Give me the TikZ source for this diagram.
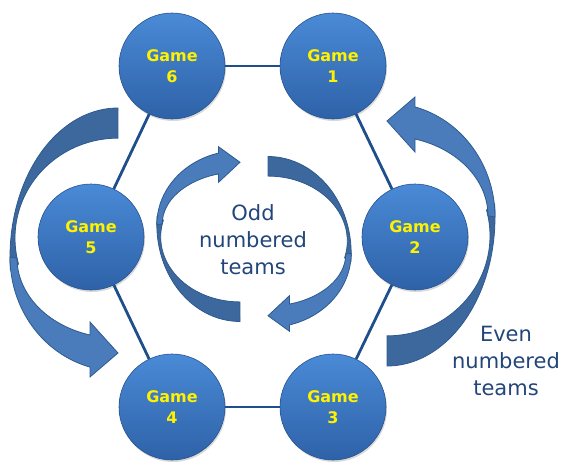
\documentclass[tikz,border=0pt]{standalone}
\usepackage{fontspec}
\setsansfont{DejaVu Sans}
\usepackage{xcolor}
\usepackage{tikz}
\usetikzlibrary{shadows}
\definecolor{gametop}{HTML}{4A8AD6}
\definecolor{gamebottom}{HTML}{2E62A8}
\definecolor{linkblue}{HTML}{1F4E8C}
\definecolor{arrowlight}{HTML}{4A7CBC}
\definecolor{arrowdark}{HTML}{3D689E}
\definecolor{arrowedge}{HTML}{2D5A8E}
\definecolor{teamtext}{HTML}{22467A}

\begin{document}
\begin{tikzpicture}[x=1pt,y=-1pt,
    game/.style={circle,minimum size=106pt,inner sep=0pt,draw=gamebottom!85!black,line width=0.6pt,
      top color=gametop,bottom color=gamebottom,
      drop shadow={opacity=0.3,shadow xshift=1pt,shadow yshift=-2pt},
      text=yellow,font=\sffamily\bfseries\fontsize{16}{21}\selectfont,align=center},
    link/.style={draw=linkblue,line width=2.8pt},
    teams/.style={text=teamtext,font=\sffamily\fontsize{21}{27}\selectfont,align=center},
    backpart/.style={fill=arrowdark,draw=arrowedge,line width=0.8pt},
    frontpart/.style={fill=arrowlight,draw=arrowedge,line width=0.8pt}]
        \useasboundingbox (0,0) rectangle (571,469);
        \def\curvedarrow{
          \filldraw [backpart] (0,-130) arc[start angle=270,end angle=175,x radius=108,y radius=149]
            -- (-99.5,26) arc[start angle=165,end angle=270,x radius=103,y radius=100] -- cycle;
          \filldraw [frontpart] (-108,19) arc[start angle=180,end angle=105,x radius=108,y radius=114]
            -- (-28,139) -- (0,115) -- (-28,84) -- (-28,97)
            arc[start angle=106.1,end angle=180,x radius=101,y radius=80] -- cycle;
        }
        % outer arrows
        \begin{scope}[shift={(118,238)}]
          \curvedarrow
        \end{scope}
        \begin{scope}[shift={(387,236)},xscale=-1,yscale=-1]
          \curvedarrow
        \end{scope}
        % inner arrows
        \begin{scope}[shift={(240,237)},xscale=0.77,yscale=-0.65]
          \curvedarrow
        \end{scope}
        \begin{scope}[shift={(268,241)},xscale=-0.77,yscale=0.65]
          \curvedarrow
        \end{scope}
        \node [game] (g6) at (172,66) {Game\\6};
        \node [game] (g1) at (333,66) {Game\\1};
        \node [game] (g2) at (415,237) {Game\\2};
        \node [game] (g3) at (333,407) {Game\\3};
        \node [game] (g4) at (172,407) {Game\\4};
        \node [game] (g5) at (91,237) {Game\\5};
        \draw [link] (g6) -- (g1);
        \draw [link] (g1) -- (g2);
        \draw [link] (g2) -- (g3);
        \draw [link] (g3) -- (g4);
        \draw [link] (g4) -- (g5);
        \draw [link] (g5) -- (g6);
        \node [teams] (odd) at (253,240) {Odd\\numbered\\teams};
        \node [teams] (even) at (506,361) {Even\\numbered\\teams};
      \end{tikzpicture}
\end{document}
